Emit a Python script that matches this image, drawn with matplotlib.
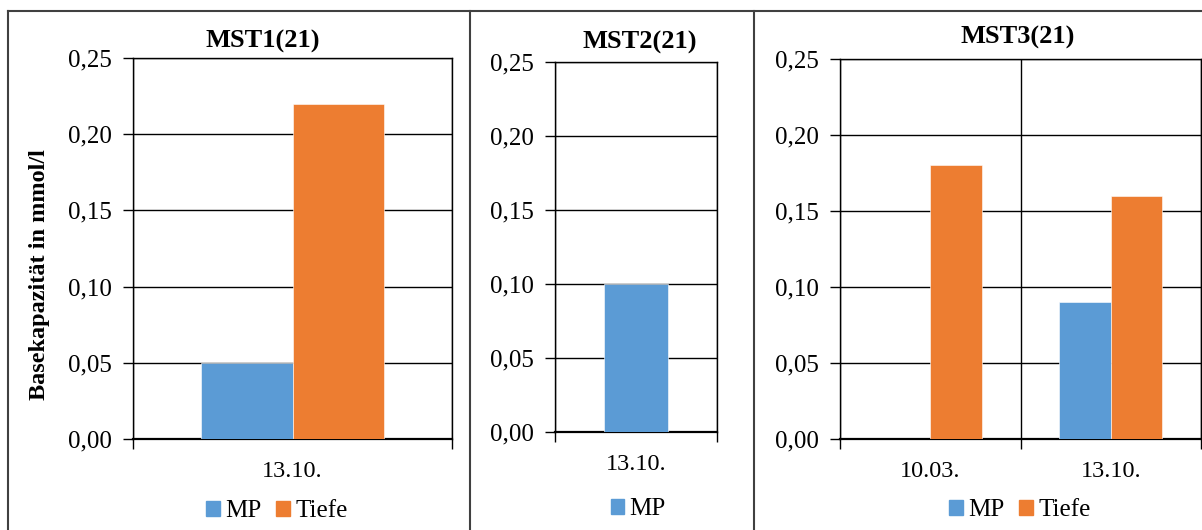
import numpy as np
import matplotlib
matplotlib.use("Agg")
import matplotlib.pyplot as plt
from matplotlib.lines import Line2D
from matplotlib.patches import Patch
from matplotlib.ticker import FuncFormatter, FixedLocator

plt.rcParams['font.family'] = ['Liberation Serif', 'DejaVu Serif']

# Daten
titel = ["MST1(21)", "MST2(21)", "MST3(21)"]
datum1 = ["13.10."]
mp1 = [0.05]
tiefe1 = [0.22]
datum2 = ["13.10."]
mp2 = [0.10]
datum3 = ["10.03.", "13.10."]
mp3 = [np.nan, 0.09]
tiefe3 = [0.18, 0.16]
ylabel = "Basekapazität in mmol/l"

BLAU = "#5B9BD5"
ORANGE = "#ED7D31"

W, H = 1202, 530
fig = plt.figure(figsize=(W / 100, H / 100), dpi=100)


def box(l, r, t, b):
    return [l / W, 1 - b / H, (r - l) / W, (b - t) / H]


def komma(v, pos):
    return f"{v:.2f}".replace(".", ",")


def panel(rect, kat, reihen, farben, namen, titel_xy, leg_xy, tit):
    ax = fig.add_axes(rect)
    n = len(reihen)
    breite = 1 / (n + 1.5)
    x = np.arange(len(kat))
    for i, (werte, farbe) in enumerate(zip(reihen, farben)):
        off = (i - (n - 1) / 2) * breite
        ax.bar(x + off, werte, breite, color=farbe, zorder=3,
               edgecolor="white", linewidth=0.4)
    ax.set_xlim(-0.5, len(kat) - 0.5)
    ax.set_ylim(0, 0.25)
    ax.set_yticks(np.arange(0, 0.26, 0.05))
    ax.yaxis.set_major_formatter(FuncFormatter(komma))
    ax.xaxis.set_major_locator(FixedLocator(np.arange(len(kat) + 1) - 0.5))
    ax.xaxis.set_minor_locator(FixedLocator(x))
    ax.set_xticklabels([])
    ax.set_xticklabels(kat, minor=True)
    ax.tick_params(axis="x", which="major", length=7, width=1, color="black")
    ax.tick_params(axis="x", which="minor", length=0, labelsize=17.5, pad=16)
    ax.tick_params(axis="y", length=7, width=1, labelsize=18, pad=8)
    ax.grid(True, axis="both", which="major", color="black", linewidth=1, zorder=1)
    ax.set_axisbelow(True)
    for s in ax.spines.values():
        s.set_color("black")
        s.set_linewidth(1)
    ax.spines["bottom"].set_linewidth(1.6)
    fig.text(titel_xy[0] / W, 1 - titel_xy[1] / H, tit, ha="center", va="center",
             fontsize=19, fontweight="bold")
    handles = [Patch(color=f) for f in farben]
    fig.legend(handles, namen, loc="center", bbox_to_anchor=(leg_xy[0] / W, 1 - leg_xy[1] / H),
               ncol=len(namen), frameon=False, fontsize=18, handlelength=0.55,
               handleheight=0.55, handletextpad=0.2, columnspacing=0.6, borderpad=0)
    return ax


ax1 = panel(box(133, 452, 58, 439), datum1, [mp1, tiefe1], [BLAU, ORANGE],
            ["MP", "Tiefe"], (263, 41), (277, 511), titel[0])
ax1.set_ylabel(ylabel, fontsize=17.5, fontweight="bold", va="center")
ax1.yaxis.set_label_coords((40 - 133) / 319, (439 - 275) / 381)

panel(box(555, 717, 62, 432), datum2, [mp2], [BLAU], ["MP"], (640, 42), (638, 509), titel[1])
panel(box(840, 1201, 59, 439), datum3, [mp3, tiefe3], [BLAU, ORANGE],
      ["MP", "Tiefe"], (1018, 37), (1020, 510), titel[2])

# Rahmen der Diagramme
rand = "#404040"
for xs, ys in [((8, 1202), (11, 11)), ((8, 8), (11, 530)),
               ((470, 470), (11, 530)), ((754, 754), (11, 530))]:
    fig.add_artist(Line2D([v / W for v in xs], [1 - v / H for v in ys],
                          color=rand, linewidth=1.5))

fig.savefig("out.png", dpi=100)
